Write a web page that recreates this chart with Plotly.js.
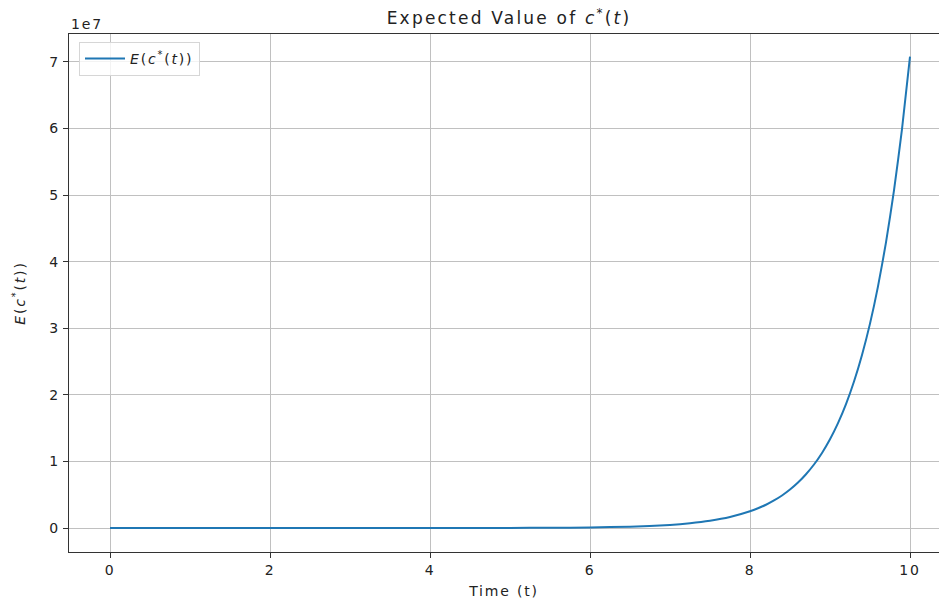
<!DOCTYPE html>
<html>
<head>
<meta charset="utf-8">
<script src="https://cdn.plot.ly/plotly-3.0.1.min.js"></script>
<style>
html,body{margin:0;padding:0;background:#fff;}
#chart{width:939px;height:600px;}
text{letter-spacing:0.13em;}
</style>
</head>
<body>
<div id="chart"></div>
<script>
// Values (units of 1e7)
var timeT = [0, 1, 2, 3, 4, 5, 5.5, 6, 6.5, 7, 7.25, 7.5, 7.75,
  8.0, 8.1, 8.2, 8.3, 8.4, 8.5, 8.6, 8.7, 8.8, 8.9,
  9.0, 9.1, 9.2, 9.3, 9.4, 9.5, 9.6, 9.7, 9.8, 9.9, 10.0];
var expectedC = [0, 0, 0, 0.0001, 0.0003, 0.0017, 0.0039, 0.0089, 0.020, 0.047, 0.072, 0.109, 0.165,
  0.251, 0.297, 0.350, 0.414, 0.489, 0.578, 0.683, 0.808, 0.954, 1.128,
  1.333, 1.575, 1.86, 2.20, 2.60, 3.07, 3.63, 4.29, 5.07, 5.99, 7.08];
var scale = 1e7;
var xTicks = [0, 2, 4, 6, 8, 10];
var yTickVals = [0, 1, 2, 3, 4, 5, 6, 7];
var yTickText = ["0", "1", "2", "3", "4", "5", "6", "7"];

var yVals = expectedC.map(function(v){ return v * scale; });
var FAM = "DejaVu Sans, sans-serif";
function f(sz){ return {family: FAM, size: sz, color: "#222"}; }

var trace = {
  x: timeT, y: yVals, type: "scatter", mode: "lines",
  line: {color: "#1f77b4", width: 2, shape: "spline", smoothing: 0.6},
  name: "<i>E</i>(<i>c</i><sup>*</sup>(<i>t</i>))"
};

var layout = {
  width: 939, height: 600,
  paper_bgcolor: "#fff", plot_bgcolor: "#fff",
  margin: {l: 69, r: 0, t: 34, b: 48, pad: 0},
  font: f(14),
  showlegend: true,
  title: {text: "Expected Value of <i>c</i><sup>*</sup>(<i>t</i>)", font: f(17),
    x: 509/939, xanchor: "center", y: 1 - 18/600, yanchor: "middle"},
  xaxis: {
    range: [-0.5125, 10.3625], tickvals: xTicks, ticktext: xTicks.map(String),
    showgrid: true, gridcolor: "#c0c0c0", gridwidth: 1,
    showline: true, linecolor: "#333", linewidth: 1.2, mirror: true,
    ticks: "outside", ticklen: 5, tickcolor: "#333", zeroline: false,
    tickfont: f(14),
    title: {text: "Time (t)", font: f(14), standoff: 9}
  },
  yaxis: {
    range: [-0.36e7, 7.42e7], tickvals: yTickVals.map(function(v){return v*scale;}), ticktext: yTickText,
    showgrid: true, gridcolor: "#c0c0c0", gridwidth: 1,
    showline: true, linecolor: "#333", linewidth: 1.2, mirror: false,
    ticks: "outside", ticklen: 5, tickcolor: "#333", zeroline: false,
    tickfont: f(14),
    title: {text: "<i>E</i>(<i>c</i><sup>*</sup>(<i>t</i>))", font: f(14), standoff: 20}
  },
  legend: {
    x: 10/870, y: 1 - 8/518, xanchor: "left", yanchor: "top",
    bgcolor: "rgba(255,255,255,0.8)", bordercolor: "#d6d6d6", borderwidth: 1,
    itemwidth: 40, font: f(14)
  },
  annotations: [{
    text: "1e7", xref: "paper", yref: "paper", x: 0, y: 1, xanchor: "left", yanchor: "bottom",
    showarrow: false, yshift: 0, font: f(14)
  }]
};

Plotly.newPlot("chart", [trace], layout, {displayModeBar: false, staticPlot: true});
</script>
</body>
</html>
